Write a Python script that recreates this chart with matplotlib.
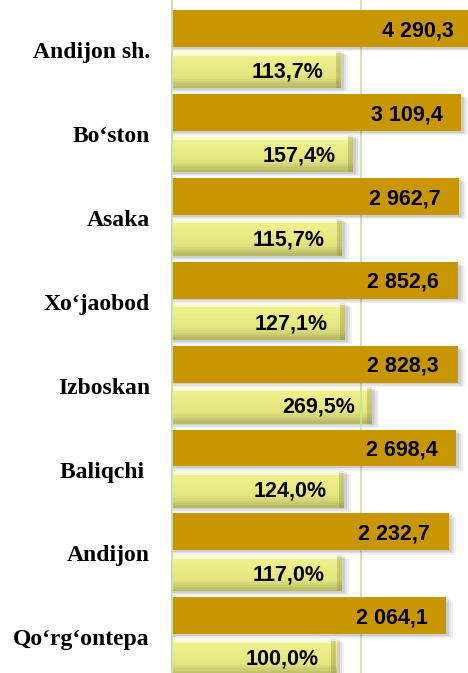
import matplotlib
matplotlib.use("Agg")
import matplotlib.pyplot as plt
import numpy as np
from matplotlib.transforms import blended_transform_factory
from matplotlib.colors import to_rgb

categories = ["Andijon sh.", "Bo‘ston", "Asaka", "Xo‘jaobod", "Izboskan", "Baliqchi ", "Andijon", "Qo‘rg‘ontepa"]
volume = [4290.3, 3109.4, 2962.7, 2852.6, 2828.3, 2698.4, 2232.7, 2064.1]
growth = [113.7, 157.4, 115.7, 127.1, 269.5, 124.0, 117.0, 100.0]
volume_labels = ["4 290,3", "3 109,4", "2 962,7", "2 852,6", "2 828,3", "2 698,4", "2 232,7", "2 064,1"]
growth_labels = ["113,7%", "157,4%", "115,7%", "127,1%", "269,5%", "124,0%", "117,0%", "100,0%"]

W, H = 468, 673
fig = plt.figure(figsize=(W / 100, H / 100), dpi=100)
ax = fig.add_axes([171 / W, 0, 297 / W, 1])
ax.set_xscale("log")
ax.set_xlim(1.054, 3762)
ax.set_ylim(7.437, -0.584)
ax.axis("off")

PX_X = 83.6   # pixels per decade
PX_Y = 83.9   # pixels per category
bh = 0.44
off = 0.245
gold = "#C89600"
green = "#C6E29E"
vfont = "Liberation Sans"

def xfac(px):
    return 10 ** (px / PX_X)

def shadow(y, v, h, z):
    for k, a in [(7, 0.07), (5, 0.09), (3, 0.12)]:
        ax.barh(y + k * 0.6 / PX_Y, v * xfac(k), height=h, left=1,
                color="#404040", alpha=a, lw=0, zorder=z)

top_c = np.array(to_rgb("#FAFAC8"))
mid_c = np.array(to_rgb("#F0F08E"))
low_c = np.array(to_rgb("#E4E47E"))
bot_c = np.array(to_rgb("#B4B464"))

def yellow_bar(y, v, h, z):
    n = 16
    for k in range(n):
        t = (k + 0.5) / n
        if t < 0.12:
            c = top_c
        elif t < 0.7:
            s = (t - 0.12) / 0.58
            c = mid_c * (1 - s) + low_c * s
        else:
            s = (t - 0.7) / 0.3
            c = low_c * (1 - s) + bot_c * s
        yc = y - h / 2 + h * (k + 0.5) / n
        ax.barh(yc, v, height=h / n * 1.02, left=1, color=c, lw=0, zorder=z)
    # right bevel
    ax.barh(y, v - v / xfac(5), height=h, left=v / xfac(5),
            color="#8A8A40", alpha=0.35, lw=0, zorder=z + 0.01)
    ax.barh(y - h * 0.47, v - 1, height=h * 0.06, left=1,
            color="white", alpha=0.6, lw=0, zorder=z + 0.01)

for i in range(len(categories)):
    yg = i - off
    yy = i + off
    shadow(yy, growth[i], bh, 1)
    yellow_bar(yy, growth[i], bh, 1.5)
    shadow(yg, volume[i], bh, 2.5)
    ax.barh(yg, volume[i], height=bh, left=1, color=gold, lw=0, zorder=3)

    ax.annotate(volume_labels[i], xy=(volume[i], yg), xytext=(-13.5, -5.6),
                textcoords="offset points", ha="right", va="baseline",
                fontsize=15.5, fontweight="bold", family=vfont,
                color="black", zorder=5, annotation_clip=False)
    ax.annotate(growth_labels[i], xy=(growth[i], yy), xytext=(-12.5, -5.6),
                textcoords="offset points", ha="right", va="baseline",
                fontsize=15.5, fontweight="bold", family=vfont,
                color="black", zorder=5, annotation_clip=False)

# reference line and left axis line
ax.axvline(200, color=green, lw=1.2, zorder=2)
ax.axvline(1.054, color=green, lw=2.0, zorder=4)

tr = blended_transform_factory(fig.transFigure, ax.transData)
for i, c in enumerate(categories):
    ax.text(150 / W, i + 9 / PX_Y, c, transform=tr, ha="right", va="baseline",
            fontsize=17, fontweight="bold", family="Liberation Serif",
            color="black", clip_on=False)

fig.savefig("out.png", dpi=100)
